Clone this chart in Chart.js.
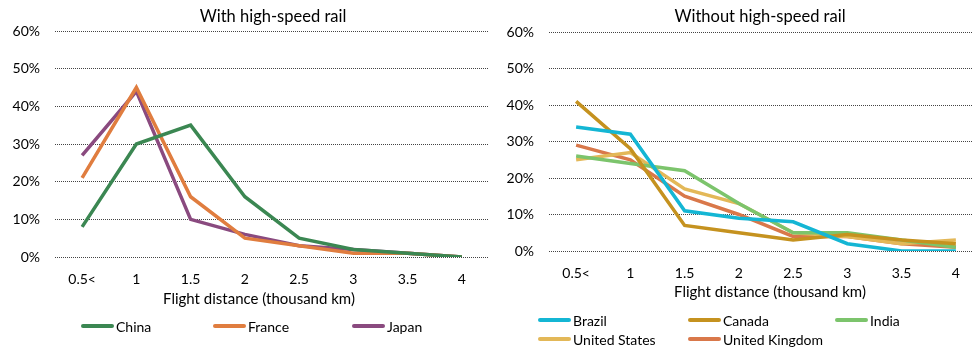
<!DOCTYPE html>
<html>
<head>
<meta charset="utf-8">
<script src="https://cdn.jsdelivr.net/npm/chart.js@4"></script>
<style>
  html, body { margin: 0; padding: 0; width: 972px; height: 347px; overflow: hidden; background: #fff; }
  body { position: relative; font-family: Lato, "Open Sans", sans-serif; color: #000; }
  .cw { position: absolute; top: 0; height: 347px; }
  .ttl { position: absolute; top: 6px; font-size: 16.5px; white-space: nowrap; transform: translateX(-50%); }
  .axt { position: absolute; font-size: 15px; white-space: nowrap; transform: translateX(-50%); }
  .leg { position: absolute; display: grid; font-size: 14px; row-gap: 1px; }
  .li { display: flex; align-items: center; white-space: nowrap; height: 18px; }
  .ln { width: 33px; height: 4px; border-radius: 2px; margin-right: 2px; }
</style>
</head>
<body>
<div class="cw" style="left:0;width:490px;"><canvas id="c1" width="490" height="347"></canvas></div>
<div class="cw" style="left:486px;width:500px;"><canvas id="c2" width="500" height="347"></canvas></div>
<div class="ttl" id="t1" style="left:273px;"></div>
<div class="ttl" id="t2" style="left:760px;"></div>
<div class="axt" id="a1" style="left:259px;top:289px;"></div>
<div class="axt" id="a2" style="left:770px;top:282px;"></div>
<div class="leg" id="l1" style="left:81px;top:317px;grid-template-columns:132px 139px 120px;"></div>
<div class="leg" id="l2" style="left:538px;top:311px;grid-template-columns:150px 147px 100px;"></div>
<script>
// ---- data ----
const categories = ["0.5<", "1", "1.5", "2", "2.5", "3", "3.5", "4"];
const yTicks = [0, 10, 20, 30, 40, 50, 60];
const leftTitle = "With high-speed rail";
const rightTitle = "Without high-speed rail";
const xAxisTitle = "Flight distance (thousand km)";

const china  = [8, 30, 35, 16, 5, 2, 1, 0];
const france = [21, 45, 16, 5, 3, 1, 1, 0];
const japan  = [27, 44, 10, 6, 3, 2, 1, 0];

const brazil = [34, 32, 11, 9, 8, 2, 0, 0];
const canada = [41, 28, 7, 5, 3, 4.5, 3, 2];
const india  = [26, 24, 22, 13, 5, 5, 3, 1];
const unitedStates  = [25, 27, 17, 13, 5, 4, 2, 3];
const unitedKingdom = [29, 25, 15, 10, 4, 4, 2, 1];

// ---- styles ----
const leftSeries = [
  { label: "China", data: china, color: "#3B8752" },
  { label: "France", data: france, color: "#E07D3F" },
  { label: "Japan", data: japan, color: "#8A4A7F" }
];
const rightSeries = [
  { label: "Brazil", data: brazil, color: "#14B6D4" },
  { label: "Canada", data: canada, color: "#C5921F" },
  { label: "India", data: india, color: "#7CC46C" },
  { label: "United States", data: unitedStates, color: "#E3B858" },
  { label: "United Kingdom", data: unitedKingdom, color: "#D9784A" }
];
const FONT = "Lato, 'Open Sans', sans-serif";

function makeChart(id, series, yWidth, xHeight, padTop, padRight) {
  return new Chart(document.getElementById(id), {
    type: "line",
    data: {
      labels: categories,
      datasets: series.map(s => ({
        label: s.label, data: s.data, borderColor: s.color, backgroundColor: s.color,
        borderWidth: 3.5, pointRadius: 0, pointHoverRadius: 0, tension: 0, fill: false
      }))
    },
    options: {
      responsive: false, animation: false,
      layout: { padding: { top: padTop, right: padRight, left: 0, bottom: 0 } },
      plugins: { legend: { display: false }, tooltip: { enabled: false }, title: { display: false } },
      scales: {
        x: {
          offset: true,
          grid: { display: false, drawTicks: false },
          border: { display: false },
          ticks: { color: "#000", font: { family: FONT, size: 14 }, padding: 14, maxRotation: 0, autoSkip: false },
          afterFit: s => { s.height = xHeight; }
        },
        y: {
          min: 0, max: 60,
          afterBuildTicks: s => { s.ticks = yTicks.map(v => ({ value: v })); },
          grid: { color: "#444", lineWidth: 1, drawTicks: false },
          border: { display: false, dash: [1, 1] },
          ticks: { color: "#000", font: { family: FONT, size: 14 }, padding: 15, callback: v => v + "%" },
          afterFit: s => { s.width = yWidth; }
        }
      }
    }
  });
}

makeChart("c1", leftSeries, 55, 90, 31, 1);
makeChart("c2", rightSeries, 63, 96, 32, 3);

document.getElementById("t1").textContent = leftTitle;
document.getElementById("t2").textContent = rightTitle;
document.getElementById("a1").textContent = xAxisTitle;
document.getElementById("a2").textContent = xAxisTitle;

function buildLegend(id, series) {
  const el = document.getElementById(id);
  series.forEach(s => {
    const it = document.createElement("div"); it.className = "li";
    const ln = document.createElement("span"); ln.className = "ln"; ln.style.background = s.color;
    const tx = document.createElement("span"); tx.textContent = s.label;
    it.appendChild(ln); it.appendChild(tx); el.appendChild(it);
  });
}
buildLegend("l1", leftSeries);
buildLegend("l2", rightSeries);
</script>
</body>
</html>
